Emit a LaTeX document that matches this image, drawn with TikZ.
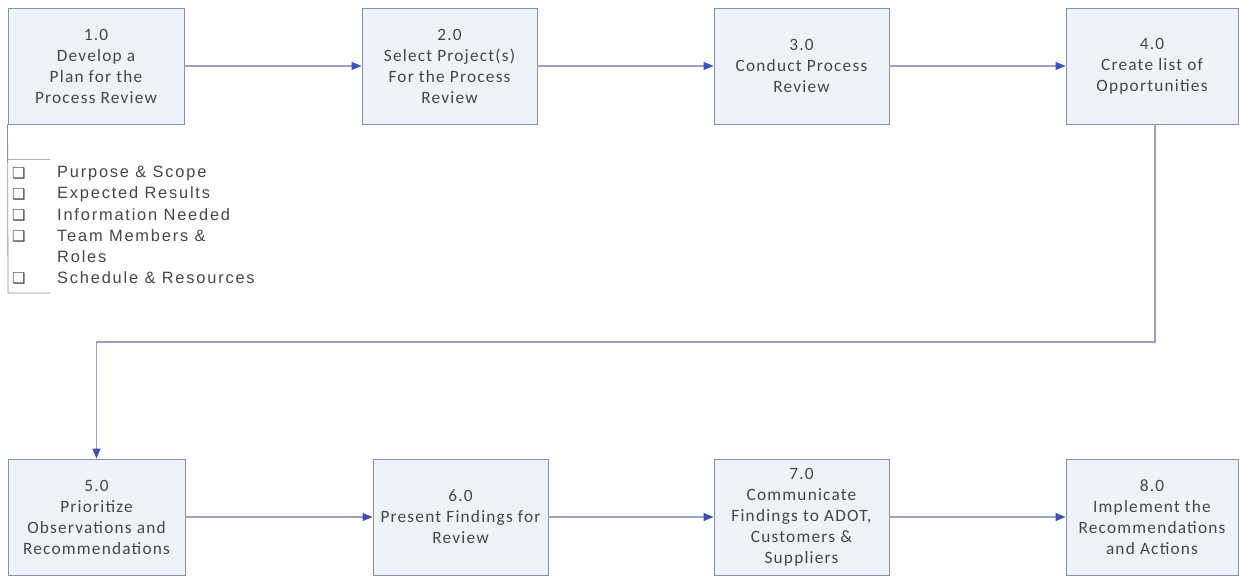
\documentclass[tikz,border=0pt]{standalone}
\usepackage{fontspec}
\setmainfont{Carlito}[LetterSpace=7]
\newfontfamily\listfont{Liberation Sans}[LetterSpace=11]
\newfontfamily\symfont{DejaVu Sans}
\usetikzlibrary{arrows.meta}
\definecolor{boxfill}{HTML}{EEF2FB}
\definecolor{boxline}{HTML}{8A8FA8}
\definecolor{conn}{HTML}{9AA2C8}
\definecolor{tip}{HTML}{3F51B5}
\definecolor{txt}{HTML}{45454F}
\tikzset{
  stepbox/.style={draw=boxline, line width=0.9pt, fill=boxfill, align=center,
    text=txt, font=\fontsize{17.3}{21}\selectfont, inner sep=0pt},
  flow/.style={draw=conn, line width=1.1pt, -{Triangle[length=10pt,width=8pt,fill=tip,color=tip]}},
  listtext/.style={anchor=west, text=txt, font=\listfont\fontsize{16.4}{21}\selectfont, inner sep=0pt},
  checkbox/.style={anchor=west, text=txt, font=\symfont\fontsize{15}{15}\selectfont, inner sep=0pt}
}
\begin{document}
\begin{tikzpicture}[x=1pt,y=-1pt]
\useasboundingbox (0,0) rectangle (1239,576);
% top row
\node[stepbox, minimum width=176pt, minimum height=116pt] (b1) at (96,66) {1.0\\Develop a\\Plan for the\\Process Review};
\node[stepbox, minimum width=175pt, minimum height=116pt] (b2) at (449.5,66) {2.0\\Select Project(s)\\For the Process\\Review};
\node[stepbox, minimum width=175pt, minimum height=116pt] (b3) at (801.5,66) {3.0\\Conduct Process\\Review};
\node[stepbox, minimum width=172pt, minimum height=116pt] (b4) at (1152,66) {4.0\\Create list of\\Opportunities};
% bottom row
\node[stepbox, minimum width=177pt, minimum height=116pt] (b5) at (96.5,517) {5.0\\Prioritize\\Observations and\\Recommendations};
\node[stepbox, minimum width=175pt, minimum height=116pt] (b6) at (460.5,517) {6.0\\Present Findings for\\Review};
\node[stepbox, minimum width=175pt, minimum height=116pt] (b7) at (801.5,517) {7.0\\Communicate\\Findings to ADOT,\\Customers \&\\Suppliers};
\node[stepbox, minimum width=172pt, minimum height=116pt] (b8) at (1152,517) {8.0\\Implement the\\Recommendations\\and Actions};
% connectors
\draw[flow] (b1) -- (b2);
\draw[flow] (b2) -- (b3);
\draw[flow] (b3) -- (b4);
\coordinate (c1) at (1155,342);
\coordinate (c2) at (96.5,342);
\draw[flow] (b4.south -| c1) -- (c1) -- (c2) -- (b5.north);
\draw[flow] (b5) -- (b6);
\draw[flow] (b6) -- (b7);
\draw[flow] (b7) -- (b8);
% list bracket
\coordinate (k1) at (8,159);
\coordinate (k2) at (50,159);
\coordinate (k3) at (8,293);
\coordinate (k4) at (50,293);
\draw[draw=boxline, line width=0.8pt] (b1.south west) -- (k3) -- (k4);
\draw[draw=boxline!70, line width=0.6pt] (k1) -- (k2);
% list
\foreach \yy in {173,194,215,236,278}{
  \node[checkbox] at (12,\yy) {❑};
}
\node[listtext] (l1) at (57,173) {Purpose \& Scope};
\node[listtext] (l2) at (57,194) {Expected Results};
\node[listtext] (l3) at (57,215) {Information Needed};
\node[listtext] (l4) at (57,236) {Team Members \&};
\node[listtext] (l5) at (57,257) {Roles};
\node[listtext] (l6) at (57,278) {Schedule \& Resources};
\end{tikzpicture}
\end{document}
